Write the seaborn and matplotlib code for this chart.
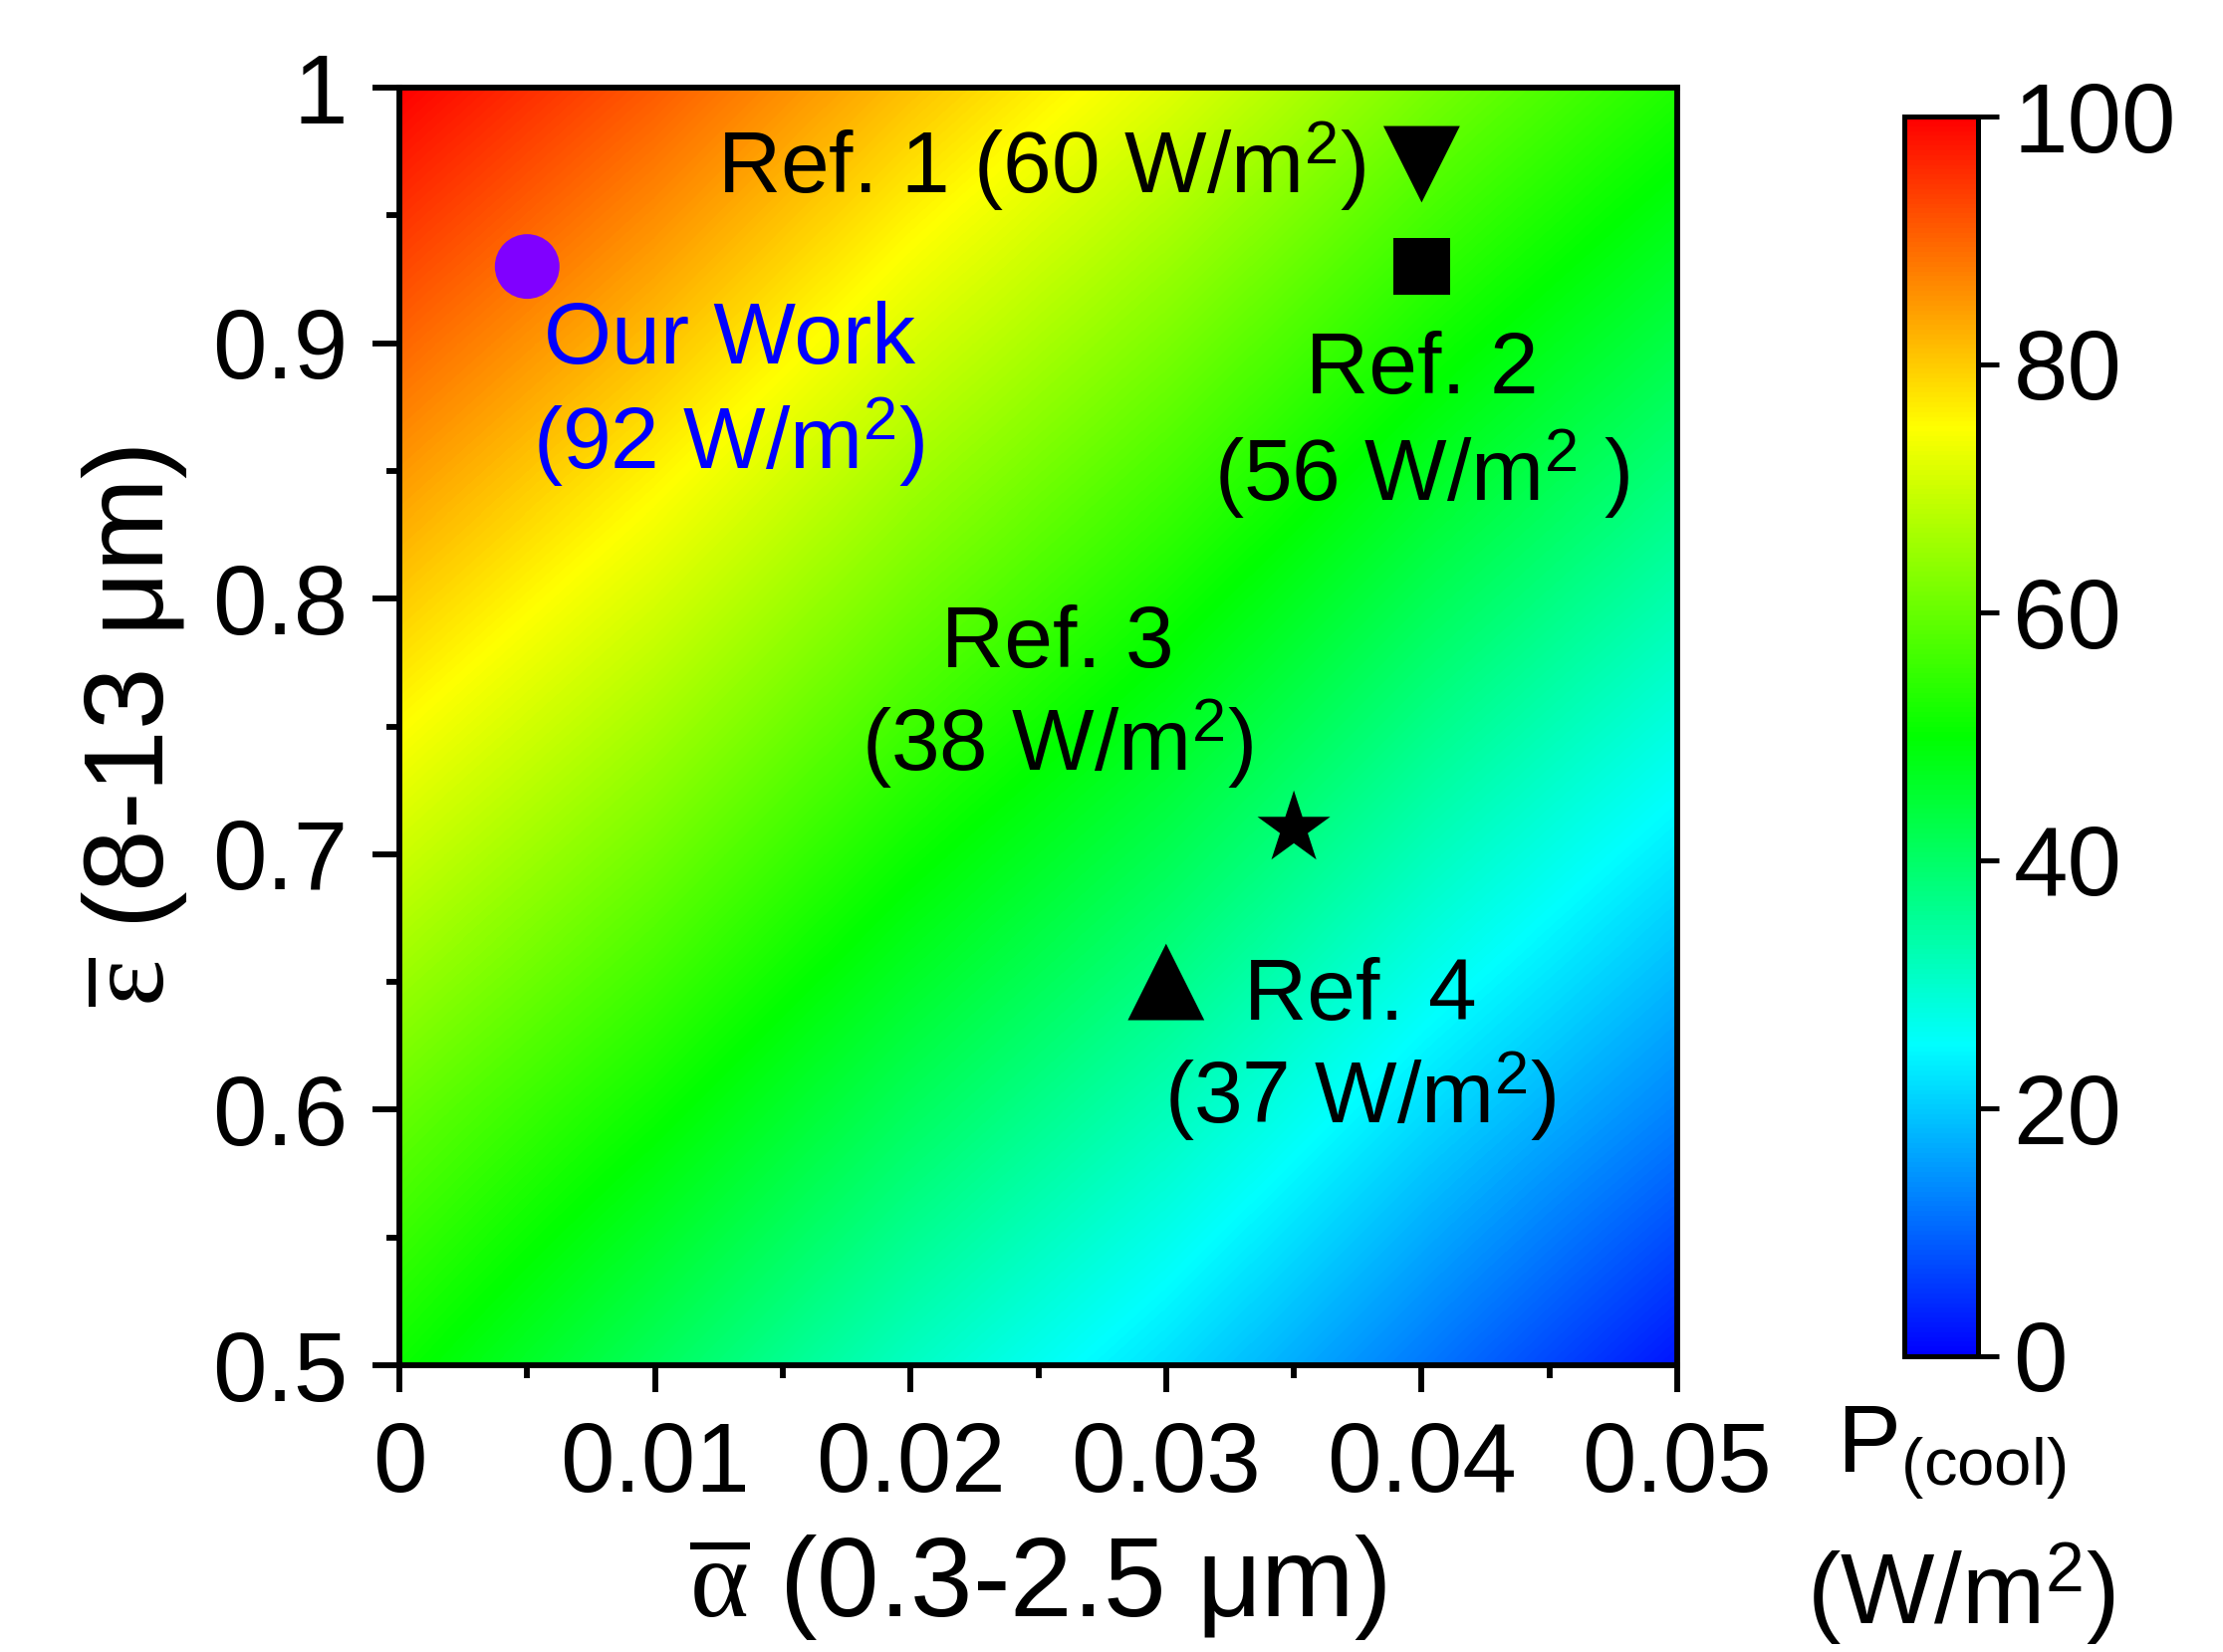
import numpy as np
import pandas as pd
import matplotlib
matplotlib.use("Agg")
import matplotlib.pyplot as plt
from matplotlib.colors import LinearSegmentedColormap
from matplotlib.ticker import MultipleLocator
import seaborn as sns

# Cooling power map (W/m2), rows = emissivity, cols = absorptivity
alpha_grid = [0.0, 0.01, 0.02, 0.03, 0.04, 0.05]
eps_grid = [0.5, 0.6, 0.7, 0.8, 0.9, 1.0]
p_eps_050 = [51, 41, 31, 22, 12, 2]
p_eps_060 = [60, 51, 41, 32, 22, 13]
p_eps_070 = [70, 61, 51, 42, 32, 23]
p_eps_080 = [80, 71, 61, 52, 42, 33]
p_eps_090 = [90, 81, 71, 62, 52, 43]
p_eps_100 = [100, 91, 81, 72, 62, 53]

# Literature points
point_names = ['Our Work', 'Ref. 1', 'Ref. 2', 'Ref. 3', 'Ref. 4']
point_alpha = [0.005, 0.04, 0.04, 0.035, 0.03]
point_eps = [0.93, 0.97, 0.93, 0.71, 0.65]
point_power = [92, 60, 56, 38, 37]

cbar_ticks = [0, 20, 40, 60, 80, 100]

sns.set_style('ticks')
plt.rcParams['font.family'] = ['Liberation Sans', 'DejaVu Sans']
plt.rcParams['mathtext.fontset'] = 'custom'
plt.rcParams['mathtext.rm'] = 'Liberation Serif'
plt.rcParams['mathtext.it'] = 'Liberation Serif:italic'
plt.rcParams['mathtext.sf'] = 'Liberation Sans'
plt.rcParams['axes.linewidth'] = 1.4
for key in ['text.color', 'axes.labelcolor', 'xtick.color', 'ytick.color', 'axes.edgecolor']:
    plt.rcParams[key] = 'black'

W, H = 2232, 1659
fig = plt.figure(figsize=(W / 300, H / 300), dpi=300)
ax = fig.add_axes([401 / W, 1 - 1371 / H, 1283 / W, 1283 / H])
cax = fig.add_axes([1912 / W, 1 - 1362 / H, 74 / W, 1245 / H])

cmap = LinearSegmentedColormap.from_list(
    'rainbow_origin',
    [(0.0, '#0000ff'), (0.25, '#00ffff'), (0.5, '#00ff00'), (0.75, '#ffff00'), (1.0, '#ff0000')])

P = np.array([p_eps_050, p_eps_060, p_eps_070, p_eps_080, p_eps_090, p_eps_100])
da = alpha_grid[1] - alpha_grid[0]
de = eps_grid[1] - eps_grid[0]
im = ax.imshow(P, origin='lower', cmap=cmap, vmin=0, vmax=100,
               extent=[alpha_grid[0] - da / 2, alpha_grid[-1] + da / 2,
                       eps_grid[0] - de / 2, eps_grid[-1] + de / 2],
               interpolation='bilinear', interpolation_stage='data', aspect='auto')

pts = pd.DataFrame({'alpha': point_alpha, 'eps': point_eps, 'name': point_names})
sns.scatterplot(data=pts, x='alpha', y='eps', hue='name', style='name', size='name',
                palette={'Our Work': '#8000ff', 'Ref. 1': 'black', 'Ref. 2': 'black',
                         'Ref. 3': 'black', 'Ref. 4': 'black'},
                markers={'Our Work': 'o', 'Ref. 1': 'v', 'Ref. 2': 's',
                         'Ref. 3': '*', 'Ref. 4': '^'},
                sizes={'Our Work': 243, 'Ref. 1': 340, 'Ref. 2': 188,
                       'Ref. 3': 340, 'Ref. 4': 340},
                linewidth=0, legend=False, ax=ax, zorder=3)

ax.set_xlim(0, 0.05)
ax.set_ylim(0.5, 1.0)
ax.set_xticks([0, 0.01, 0.02, 0.03, 0.04, 0.05])
ax.set_xticklabels(['0', '0.01', '0.02', '0.03', '0.04', '0.05'])
ax.set_yticks([0.5, 0.6, 0.7, 0.8, 0.9, 1.0])
ax.set_yticklabels(['0.5', '0.6', '0.7', '0.8', '0.9', '1'])
ax.xaxis.set_minor_locator(MultipleLocator(0.005))
ax.yaxis.set_minor_locator(MultipleLocator(0.05))
ax.tick_params(which='major', direction='out', length=6.4, width=1.4,
               labelsize=23.5, top=False, right=False)
ax.tick_params(axis='x', which='major', pad=7)
ax.tick_params(axis='y', which='major', pad=6)
ax.tick_params(which='minor', direction='out', length=3.2, width=1.4, top=False, right=False)
for sp in ax.spines.values():
    sp.set_linewidth(1.4)
    sp.set_color('black')

ax.set_xlabel(r'$\overline{\mathrm{\alpha}}$ (0.3-2.5 μm)', fontsize=27, va='center')
ax.xaxis.set_label_coords(0.5, -0.174)
ax.set_ylabel(r'$\overline{\mathrm{\varepsilon}}$ (8-13 μm)', fontsize=27, va='center')
ax.yaxis.set_label_coords(-0.207, 0.5)

# annotations
fs = 21
wm2 = r'W/m$^{\mathregular{2}}$'
ax.text(0.0378, 0.969, 'Ref. 1 (60 ' + wm2 + ')', fontsize=fs, ha='right', va='center')
ax.text(0.0129, 0.901, 'Our Work', fontsize=fs, ha='center', va='center', color='#0000ff')
ax.text(0.0129, 0.861, '(92 ' + wm2 + ')', fontsize=fs, ha='center', va='center', color='#0000ff')
ax.text(0.0400, 0.889, 'Ref. 2', fontsize=fs, ha='center', va='center')
ax.text(0.0400, 0.8485, '(56 ' + wm2 + ' )', fontsize=fs, ha='center', va='center')
ax.text(0.02575, 0.782, 'Ref. 3', fontsize=fs, ha='center', va='center')
ax.text(0.02575, 0.743, '(38 ' + wm2 + ')', fontsize=fs, ha='center', va='center')
ax.text(0.0376, 0.644, 'Ref. 4', fontsize=fs, ha='center', va='center')
ax.text(0.0376, 0.605, '(37 ' + wm2 + ')', fontsize=fs, ha='center', va='center')

# colorbar
cbar = fig.colorbar(im, cax=cax, ticks=cbar_ticks)
cbar.outline.set_linewidth(1.2)
cbar.outline.set_edgecolor('black')
cax.tick_params(direction='out', length=5, width=1.2, labelsize=23.5, pad=3.5, colors='black')
cax.minorticks_off()

fig.text(1959 / W, 1 - 1459 / H, r'P$_{\mathregular{(cool)}}$', fontsize=23,
         ha='center', va='center')
fig.text(1969 / W, 1 - 1601 / H, '(' + wm2 + ')', fontsize=24, ha='center', va='center')

fig.savefig('out.png', dpi=300)
